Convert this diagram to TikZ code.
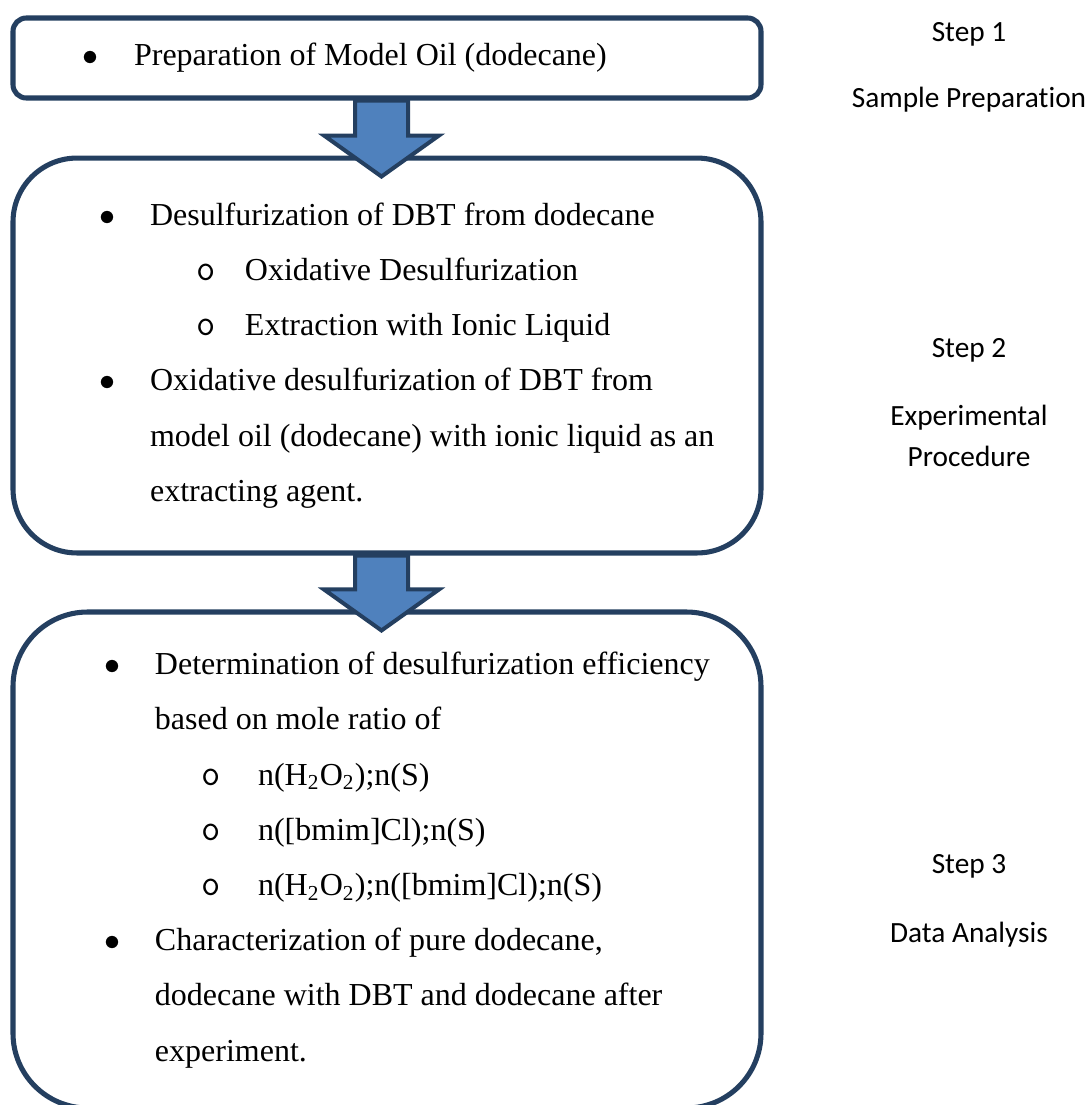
\documentclass[tikz,border=0pt]{standalone}
\usepackage{fontspec}
\setmainfont{Liberation Serif}[Ligatures=NoCommon]
\newfontfamily\calibrifont{Carlito}[Ligatures=NoCommon]
\usepackage{xcolor}
\usetikzlibrary{calc}
\definecolor{boxborder}{RGB}{36, 63, 96}
\definecolor{arrowfill}{RGB}{79, 129, 189}
% list lines: bullet offset, text offset, text
\newcommand{\bulletline}[3]{\makebox[#2][l]{\hspace*{#1}$\bullet$}#3}
\newcommand{\subline}[3]{\makebox[#2][l]{\hspace*{#1}{\ttfamily\fontsize{14}{14}\selectfont o}}#3}
\newcommand{\contline}[2]{\hspace*{#1}#2}
% block arrow from one box down into the next
\newcommand{\blockarrow}[2]{%
    \coordinate (#1-tail) at ($(#1.south)+(-5.5,0)$);
    \coordinate (#1-tip) at ($(#2.north)+(-5.5,21)$);
    \draw[bigarrow] ($(#1-tail)+(-26.5,0)$) -- ($(#1-tip)+(-26.5,-41)$) -- ($(#1-tip)+(-57.5,-41)$)
        -- (#1-tip) -- ($(#1-tip)+(57.5,-41)$) -- ($(#1-tip)+(26.5,-41)$) -- ($(#1-tail)+(26.5,0)$) -- cycle;
}

\begin{document}
\begin{tikzpicture}[
        x=0.375pt, y=-0.375pt,
        stagebox/.style={draw=boxborder, line width=1.9pt, fill=white, inner sep=0pt,
            minimum width=280.5pt, text width=280.5pt, align=flush left,
            font=\fontsize{12}{20.7}\selectfont},
        sidelabel/.style={inner sep=0pt, align=center, font=\calibrifont\fontsize{11}{15.4}\selectfont},
        bigarrow/.style={draw=boxborder, line width=1.5pt, fill=arrowfill, line join=miter}
    ]
        \useasboundingbox (0,0) rectangle (1091,1105);

        % Step 1
        \node[stagebox, minimum height=30pt, rounded corners=5pt] (prep) at (387,58) {
            \bulletline{25.9pt}{45.4pt}{Preparation of Model Oil (dodecane)}
        };

        % Step 2
        \node[stagebox, minimum height=148.1pt, rounded corners=24pt] (exper) at (387,355.5) {
            \bulletline{32.6pt}{51.4pt}{Desulfurization of DBT from dodecane}\\
            \subline{68.7pt}{87pt}{Oxidative Desulfurization}\\
            \subline{68.7pt}{87pt}{Extraction with Ionic Liquid}\\
            \bulletline{32.6pt}{51.4pt}{Oxidative desulfurization of DBT from}\\
            \contline{51.4pt}{model oil (dodecane) with ionic liquid as an}\\
            \contline{51.4pt}{extracting agent.}
        };

        % Step 3
        \node[stagebox, minimum height=186pt, rounded corners=28pt] (anal) at (387,860) {
            \bulletline{34.5pt}{53.25pt}{Determination of desulfurization efficiency}\\
            \contline{53.25pt}{based on mole ratio of}\\
            \subline{70.6pt}{91.9pt}{n(H\textsubscript{2}O\textsubscript{2});n(S)}\\
            \subline{70.6pt}{91.9pt}{n([bmim]Cl);n(S)}\\
            \subline{70.6pt}{91.9pt}{n(H\textsubscript{2}O\textsubscript{2});n([bmim]Cl);n(S)}\\
            \bulletline{34.5pt}{53.25pt}{Characterization of pure dodecane,}\\
            \contline{53.25pt}{dodecane with DBT and dodecane after}\\
            \contline{53.25pt}{experiment.}
        };

        % Arrows
        \blockarrow{prep}{exper}
        \blockarrow{exper}{anal}

        % Step labels
        \node[sidelabel, anchor=base] (step1) at (969,41) {Step 1};
        \node[sidelabel, anchor=base] (name1) at (969,107) {Sample Preparation};
        \node[sidelabel, anchor=base] (step2) at (969,357) {Step 2};
        \node[sidelabel] (name2) at (969,436) {Experimental\\Procedure};
        \node[sidelabel, anchor=base] (step3) at (969,873) {Step 3};
        \node[sidelabel, anchor=base] (name3) at (969,942) {Data Analysis};
    \end{tikzpicture}
\end{document}
